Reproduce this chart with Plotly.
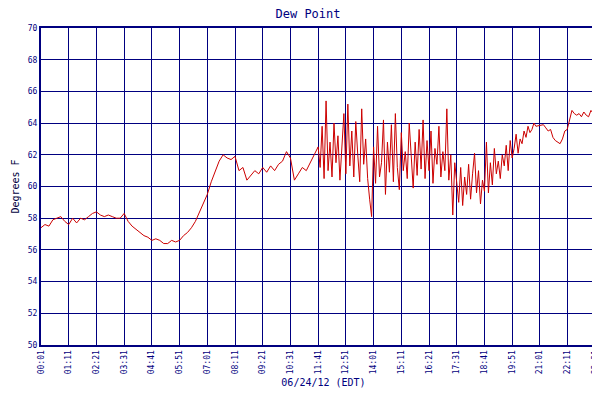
import plotly.graph_objects as go

calm_a_vals = [57.4,57.6,57.5,57.9,58.0,58.1,57.8,57.6,58.0,57.7,58.0,57.9,58.1,58.3,58.4,58.2,58.1,58.2,58.1,58.0,
               58.0,58.3,57.8,57.5,57.3,57.1,56.9,56.8,56.6,56.7,56.6,56.4,56.4,56.6,56.5,56.6,56.9,57.1,57.4,57.8,
               58.4,59.0,59.5,60.3,61.0,61.6,62.0,61.8,61.7,61.9,61.0,61.2,60.4,60.7,61.0,60.8,61.2,60.9,61.3,61.0,
               61.4,61.6,62.2,61.8,60.4,60.8,61.2,61.0,61.5,62.0]
noisy_vals = [62.5,61.2,63.8,60.5,65.4,61.0,62.8,60.6,64.0,61.5,63.2,60.4,62.5,64.6,60.8,65.2,61.3,63.5,60.6,64.1,
              62.0,60.3,64.9,61.4,63.0,60.5,59.2,58.1,62.5,60.2,63.8,60.6,61.5,64.2,59.5,62.8,60.9,63.9,60.3,64.6,
              61.2,59.8,63.4,61.0,62.2,60.5,64.0,61.6,59.9,62.8,60.7,63.6,61.1,64.2,60.5,62.9,61.0,63.5,60.2,62.4,
              61.4,63.8,60.6,62.2,61.0,64.9,60.4,62.0,58.2,61.5,60.3,59.0,
              61.2,58.8,60.6,59.5,61.4,59.2,60.8,62.1,59.6,61.0,58.9,60.4,59.7,62.8,59.6,61.5,60.1,62.4,60.8,61.6,
              60.5,62.0,61.3,62.6,61.0,62.9,61.8,62.4,63.3,62.1,63.0,62.7,63.5,63.1,63.8,63.4,63.6,64.0,63.8]
calm_b_vals = [63.9,63.7,63.5,63.6,63.1,62.9,62.8,62.7,63.0,63.5,63.6,64.3,64.8,64.6,64.5,64.6,64.4,64.7,64.5,
               64.4,64.8,64.6,64.5,65.0,64.8,65.2,64.9]
calm_a_t = list(range(1, 701, 10))
noisy_t = list(range(701, 701 + 5 * len(noisy_vals), 5))
calm_b_t = list(range(1270, 1270 + 6 * (len(calm_b_vals) - 1), 6)) + [1428]
times = calm_a_t + noisy_t + calm_b_t
values = calm_a_vals + noisy_vals + calm_b_vals

tick_labels = ["00:01","01:11","02:21","03:31","04:41","05:51","07:01","08:11","09:21","10:31","11:41",
               "12:51","14:01","15:11","16:21","17:31","18:41","19:51","21:01","22:11","23:21","23:49"]
tick_vals = [int(s[:2]) * 60 + int(s[3:]) for s in tick_labels]
navy = "#000080"
fig = go.Figure(go.Scatter(x=times, y=values, mode="lines", name="Dew Point",
                           line=dict(color="#cc0000", width=1)))
fig.update_layout(
    width=600, height=400, paper_bgcolor="white", plot_bgcolor="white",
    margin=dict(l=33, r=2, t=20, b=63, autoexpand=False),
    title=dict(text="Dew Point", x=0.5, xanchor="center", y=0.995, yanchor="top",
               font=dict(family="DejaVu Sans Mono", size=12, color=navy)),
    font=dict(family="DejaVu Sans Mono", color=navy, size=8),
    showlegend=True,
    legend=dict(orientation="h", x=0.5, xanchor="center", y=-0.25, yanchor="top",
                font=dict(size=8, color=navy)),
)
fig.update_xaxes(range=[1, 1428], tickvals=tick_vals, ticktext=tick_labels, tickangle=-90,
                 showgrid=True, gridcolor=navy, gridwidth=1, showline=True, linecolor=navy,
                 mirror=True, linewidth=2, zeroline=False, automargin=False,
                 tickfont=dict(size=8, color=navy),
                 title=dict(text="06/24/12 (EDT)", font=dict(size=10, color=navy), standoff=6))
fig.update_yaxes(range=[50, 70], dtick=2, showgrid=True, gridcolor=navy, gridwidth=1,
                 showline=True, linecolor=navy, mirror=True, linewidth=2, zeroline=False,
                 automargin=False, tickfont=dict(size=8, color=navy),
                 title=dict(text="Degrees F", font=dict(size=10, color="#000040"), standoff=6))
fig.write_html("out.html")
